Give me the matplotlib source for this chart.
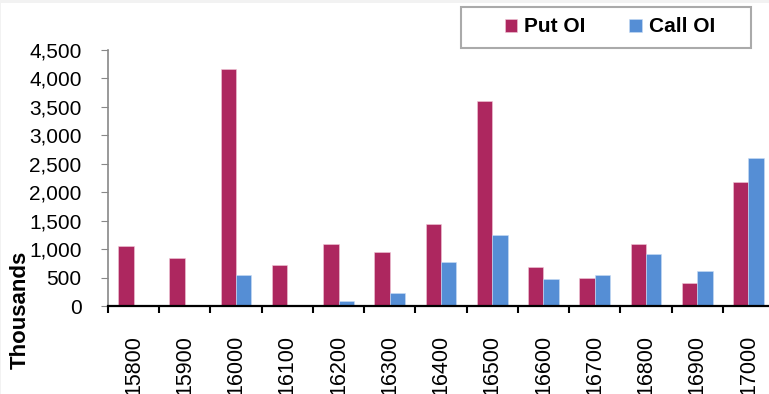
import matplotlib.pyplot as plt
import numpy as np
from matplotlib.patches import Rectangle
from matplotlib.ticker import FuncFormatter, FixedLocator

STRIKES = ["15800", "15900", "16000", "16100", "16200", "16300", "16400",
           "16500", "16600", "16700", "16800", "16900", "17000"]
PUT_OI = [1060, 850, 4170, 720, 1090, 950, 1440, 3610, 680, 500, 1090, 400, 2180]
CALL_OI = [10, 5, 540, 10, 80, 220, 780, 1240, 470, 540, 920, 610, 2600]

PUT_COLOR = "#AD275F"
CALL_COLOR = "#558ED5"

plt.rcParams["font.family"] = ["Liberation Sans", "DejaVu Sans"]

W, H = 769, 394
fig = plt.figure(figsize=(W / 100, H / 100), dpi=100)
ax = fig.add_axes([108 / W, 1 - 306 / H, 666 / W, 256 / H])

# faint grey edge at top and left, as in the source image
fig.add_artist(Rectangle((0, 1 - 3 / H), 1, 3 / H, transform=fig.transFigure,
                         facecolor="#f2f2f2", edgecolor="none"))
fig.add_artist(Rectangle((0, 0), 1 / W, 1, transform=fig.transFigure,
                         facecolor="#f2f2f2", edgecolor="none"))

x = np.arange(len(STRIKES))
w = 0.3
ax.bar(x - w / 2, PUT_OI, width=w, color=PUT_COLOR, edgecolor="#f0c8d8", linewidth=0.4, label="Put OI")
ax.bar(x + w / 2, CALL_OI, width=w, color=CALL_COLOR, edgecolor="#c8dcf4", linewidth=0.4, label="Call OI")

ax.set_xlim(-0.5, len(STRIKES) - 0.5)
ax.set_ylim(0, 4500)
ax.set_yticks(np.arange(0, 4501, 500))
ax.yaxis.set_major_formatter(FuncFormatter(lambda v, _: f"{int(v):,}"))
ax.tick_params(axis="y", labelsize=15, length=5, color="#888888", direction="out", pad=14)

ax.set_xticks(x)
ax.set_xticklabels(STRIKES, rotation=90, fontsize=15.5)
ax.xaxis.set_minor_locator(FixedLocator(np.arange(-0.5, len(STRIKES), 1.0)))
ax.tick_params(axis="x", which="major", length=0, pad=21)
ax.tick_params(axis="x", which="minor", length=5, width=1.5, color="black", direction="out")

for side in ["top", "right"]:
    ax.spines[side].set_visible(False)
ax.spines["left"].set_color("#888888")
ax.spines["left"].set_linewidth(1.2)
ax.spines["bottom"].set_color("black")
ax.spines["bottom"].set_linewidth(1.6)

fig.text(20 / W, 1 - 310 / H, "Thousands", rotation=90, fontsize=16,
         fontweight="bold", ha="center", va="center")

# legend box drawn separately so its size matches the source
fig.add_artist(Rectangle((461 / W, 1 - 48 / H), 290 / W, 41 / H, transform=fig.transFigure,
                         facecolor="white", edgecolor="#aaaaaa", linewidth=1.5))
leg = fig.legend(loc="center", bbox_to_anchor=(610 / W, 1 - 27 / H),
                 ncol=2, frameon=False,
                 prop={"weight": "bold", "size": 15}, handlelength=0.6, handleheight=0.6,
                 handletextpad=0.35, borderaxespad=0, columnspacing=2.1)

fig.savefig("out.png", dpi=100)
